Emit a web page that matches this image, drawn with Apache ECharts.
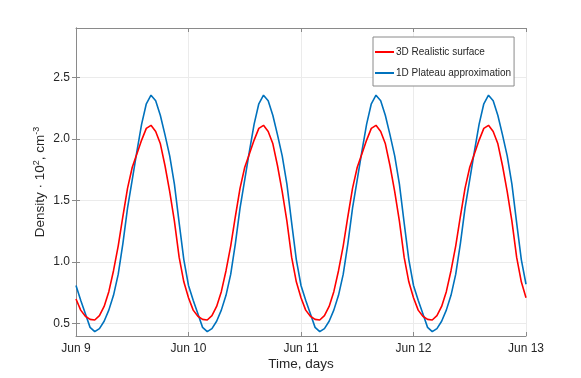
<!DOCTYPE html>
<html>
<head>
<meta charset="utf-8">
<script src="https://cdn.jsdelivr.net/npm/echarts@6/dist/echarts.min.js"></script>
<style>
html,body{margin:0;padding:0;background:#fff;}
#chart{width:581px;height:378px;}
</style>
</head>
<body>
<div id="chart"></div>
<script>
// Hourly samples from Jun 9 00:00 to Jun 13 00:00 (hour offsets)
const xTickLabels = ['Jun 9', 'Jun 10', 'Jun 11', 'Jun 12', 'Jun 13'];
const yTicks = [0.5, 1.0, 1.5, 2.0, 2.5];

const realistic3D = [
  0.70, 0.61, 0.56, 0.535, 0.53, 0.565, 0.64, 0.76, 0.93, 1.13, 1.37, 1.60, 1.77, 1.88, 1.99, 2.085, 2.11, 2.06, 1.96, 1.78, 1.57, 1.33, 1.04, 0.84,
  0.71, 0.61, 0.56, 0.535, 0.53, 0.565, 0.64, 0.76, 0.93, 1.13, 1.37, 1.60, 1.77, 1.88, 1.99, 2.085, 2.11, 2.06, 1.96, 1.78, 1.57, 1.33, 1.04, 0.84,
  0.71, 0.61, 0.56, 0.535, 0.53, 0.565, 0.64, 0.76, 0.93, 1.13, 1.37, 1.60, 1.77, 1.88, 1.99, 2.085, 2.11, 2.06, 1.96, 1.78, 1.57, 1.33, 1.04, 0.84,
  0.71, 0.61, 0.56, 0.535, 0.53, 0.565, 0.64, 0.76, 0.93, 1.13, 1.37, 1.60, 1.77, 1.88, 1.99, 2.085, 2.11, 2.06, 1.96, 1.78, 1.57, 1.33, 1.04, 0.84,
  0.71
];
const plateau1D = [
  0.81, 0.69, 0.58, 0.47, 0.435, 0.46, 0.52, 0.61, 0.73, 0.90, 1.15, 1.44, 1.67, 1.90, 2.12, 2.285, 2.355, 2.31, 2.19, 2.03, 1.86, 1.63, 1.32, 1.02,
  0.81, 0.69, 0.58, 0.47, 0.435, 0.46, 0.52, 0.61, 0.73, 0.90, 1.15, 1.44, 1.67, 1.90, 2.12, 2.285, 2.355, 2.31, 2.19, 2.03, 1.86, 1.63, 1.32, 1.02,
  0.81, 0.69, 0.58, 0.47, 0.435, 0.46, 0.52, 0.61, 0.73, 0.90, 1.15, 1.44, 1.67, 1.90, 2.12, 2.285, 2.355, 2.31, 2.19, 2.03, 1.86, 1.63, 1.32, 1.02,
  0.81, 0.69, 0.58, 0.47, 0.435, 0.46, 0.52, 0.61, 0.73, 0.90, 1.15, 1.44, 1.67, 1.90, 2.12, 2.285, 2.355, 2.31, 2.19, 2.03, 1.86, 1.63, 1.32, 1.02,
  0.82
];
const seriesNames = ['3D Realistic surface', '1D Plateau approximation'];
const seriesColors = ['#ff0000', '#0072bd'];

const toPairs = arr => arr.map((v, i) => [i, v]);

const FONT = 'Liberation Sans';
const TXT = '#262626';
const AX = '#8a8a8a';

const chart = echarts.init(document.getElementById('chart'));
chart.setOption({
  animation: false,
  backgroundColor: '#fff',
  textStyle: { fontFamily: FONT, color: TXT },
  grid: { left: 76, right: 55, top: 28, bottom: 42, containLabel: false, outerBoundsMode: 'none' },
  legend: {
    orient: 'vertical',
    left: 373, top: 37,
    backgroundColor: '#fff',
    borderColor: '#8a8a8a', borderWidth: 1, borderRadius: 0,
    padding: [10, 3, 8, 2],
    itemGap: 11,
    itemWidth: 19, itemHeight: 2,
    icon: 'rect',
    textStyle: { fontFamily: FONT, fontSize: 10, color: TXT, padding: [0, 0, 0, -3] },
    data: seriesNames
  },
  xAxis: [{
    type: 'value', min: 0, max: 96, interval: 24,
    name: 'Time, days', nameLocation: 'middle', nameGap: 21,
    nameMoveOverlap: false,
    nameTextStyle: { fontFamily: FONT, fontSize: 13.5, color: TXT },
    axisLine: { show: true, lineStyle: { color: AX, width: 1 } },
    axisTick: { show: true, inside: true, length: 4, lineStyle: { color: AX } },
    axisLabel: { fontFamily: FONT, fontSize: 12, color: TXT, margin: 7,
      formatter: v => xTickLabels[Math.round(v / 24)] },
    splitLine: { show: true, lineStyle: { color: '#ebebeb', width: 1 } }
  }, {
    type: 'value', min: 0, max: 96, interval: 24, position: 'top',
    axisLine: { show: true, lineStyle: { color: AX, width: 1 } },
    axisTick: { show: true, inside: true, length: 4, lineStyle: { color: AX } },
    axisLabel: { show: false }, splitLine: { show: false }
  }],
  yAxis: [{
    type: 'value', min: 0.4, max: 2.9,
    name: 'Density · 10{sup|2}, cm{sup|-3}', nameLocation: 'middle', nameGap: 28,
    nameMoveOverlap: false,
    nameRotate: 90,
    nameTextStyle: { fontFamily: FONT, fontSize: 13.5, color: TXT,
      rich: { sup: { fontFamily: FONT, fontSize: 9, color: TXT, verticalAlign: 'top', lineHeight: 16 } } },
    axisLine: { show: true, lineStyle: { color: AX, width: 1 } },
    axisTick: { show: true, inside: true, length: 4, lineStyle: { color: AX }, customValues: yTicks },
    axisLabel: { fontFamily: FONT, fontSize: 12, color: TXT, margin: 6, customValues: yTicks,
      formatter: v => Number(v).toFixed(1) },
    splitLine: { show: true, lineStyle: { color: '#ebebeb', width: 1 } }
  }, {
    type: 'value', min: 0.4, max: 2.9, position: 'right',
    axisLine: { show: true, lineStyle: { color: AX, width: 1 } },
    axisTick: { show: true, inside: true, length: 4, lineStyle: { color: AX }, customValues: yTicks },
    axisLabel: { show: false }, splitLine: { show: false }
  }],
  series: [realistic3D, plateau1D].map((arr, k) => ({
    name: seriesNames[k],
    type: 'line',
    xAxisIndex: 0, yAxisIndex: 0,
    data: toPairs(arr),
    showSymbol: false,
    symbol: 'none',
    color: seriesColors[k],
    lineStyle: { color: seriesColors[k], width: 1.6 },
    z: 3 + (1 - k)
  }))
});
</script>
</body>
</html>
